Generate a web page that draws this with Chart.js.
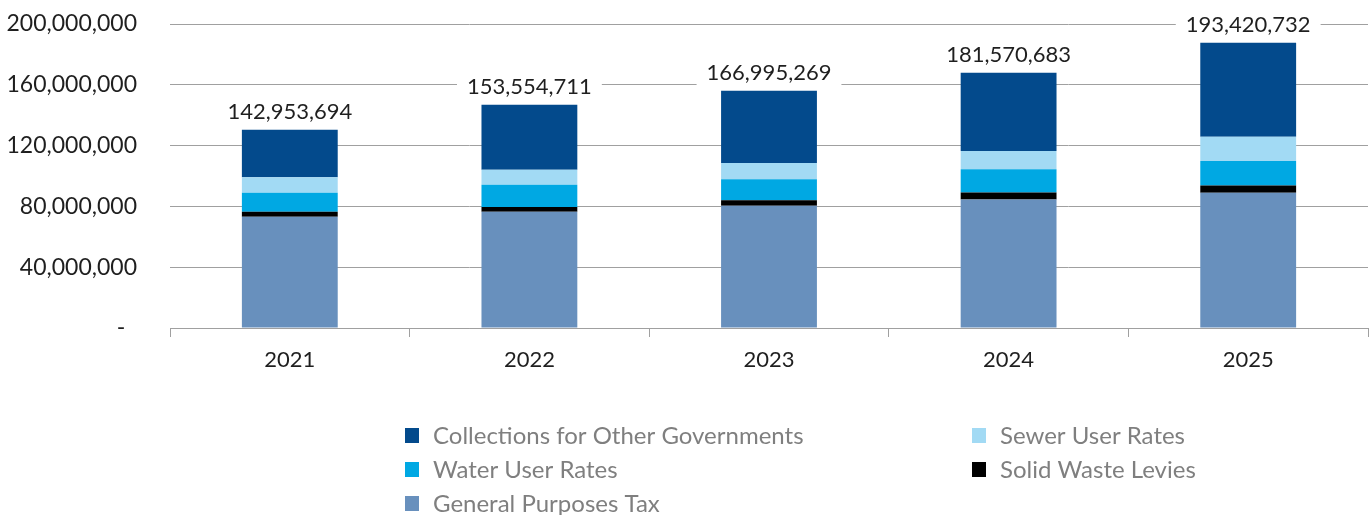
<!DOCTYPE html>
<html>
<head>
<meta charset="utf-8">
<script src="https://cdn.jsdelivr.net/npm/chart.js@4/dist/chart.umd.min.js"></script>
<style>
  html, body { margin: 0; padding: 0; background: #fff; }
  canvas { display: block; }
</style>
</head>
<body>
<canvas id="revenueChart" width="1370" height="515"></canvas>
<script>
const years = ['2021', '2022', '2023', '2024', '2025']

// stacked from the bottom up
const generalPurposes = [73200000, 76500000, 80500000, 84600000, 89000000]
const solidWaste = [3300000, 3100000, 3500000, 4600000, 4800000]
const waterRates = [12500000, 14700000, 13800000, 15200000, 16100000]
const sewerRates = [10100000, 9800000, 10700000, 12000000, 16000000]
const otherGovts = [31400000, 42800000, 47600000, 51600000, 61800000]

// printed totals above each bar
const totals = [142953694, 153554711, 166995269, 181570683, 193420732]

const yTicks = [0, 40000000, 80000000, 120000000, 160000000, 200000000]

const FONT = 'Lato'
const gridGrey = '#a0a0a0'

const fmt = v => v.toLocaleString('en-US')

const totalsPlugin = {
  id: 'totals',
  afterDatasetsDraw(chart) {
    const ctx = chart.ctx
    const last = chart.getDatasetMeta(chart.data.datasets.length - 1)
    ctx.save()
    ctx.font = '22px ' + FONT
    ctx.textAlign = 'center'
    ctx.textBaseline = 'alphabetic'
    last.data.forEach((bar, i) => {
      const txt = fmt(totals[i])
      const w = ctx.measureText(txt).width
      const base = bar.y - 11
      ctx.fillStyle = '#ffffff'
      ctx.fillRect(bar.x - w / 2 - 10, base - 22, w + 20, 28)
      ctx.fillStyle = '#1f1f1f'
      ctx.fillText(txt, bar.x, base)
    })
    ctx.restore()
  }
}

const legendPlugin = {
  id: 'gridLegend',
  afterDraw(chart) {
    const ctx = chart.ctx
    const sets = chart.data.datasets.slice().reverse()
    const cols = [405, 972]
    const rows = [435, 469, 503]
    ctx.save()
    ctx.font = '24px ' + FONT
    ctx.textBaseline = 'middle'
    ctx.textAlign = 'left'
    sets.forEach((ds, i) => {
      const x = cols[i % 2]
      const y = rows[Math.floor(i / 2)]
      ctx.fillStyle = ds.backgroundColor
      ctx.fillRect(x, y - 7, 14, 15)
      ctx.fillStyle = '#7f7f7f'
      ctx.fillText(ds.label, x + 28, y + 1)
    })
    ctx.restore()
  }
}

function loadPage() {
  const ctx = document.getElementById('revenueChart').getContext('2d')
  new Chart(ctx, {
    type: 'bar',
    data: {
      labels: years,
      datasets: [
        { label: 'General Purposes Tax', data: generalPurposes, backgroundColor: '#6890bd' },
        { label: 'Solid Waste Levies', data: solidWaste, backgroundColor: '#000000' },
        { label: 'Water User Rates', data: waterRates, backgroundColor: '#00a8e3' },
        { label: 'Sewer User Rates', data: sewerRates, backgroundColor: '#a2daf4' },
        { label: 'Collections for Other Governments', data: otherGovts, backgroundColor: '#034a8c' }
      ]
    },
    options: {
      responsive: false,
      animation: false,
      devicePixelRatio: 1,
      layout: { padding: { top: 24, right: 2, left: 0, bottom: 0 } },
      datasets: {
        bar: { categoryPercentage: 1, barPercentage: 0.4, borderWidth: 0 }
      },
      plugins: {
        legend: { display: false },
        tooltip: { enabled: false }
      },
      scales: {
        x: {
          stacked: true,
          afterFit: s => { s.height = 187 },
          grid: { offset: true, drawOnChartArea: false, tickLength: 9, color: gridGrey },
          border: { display: true, color: gridGrey },
          ticks: { color: '#1f1f1f', font: { family: FONT, size: 22 }, padding: 10 }
        },
        y: {
          stacked: true,
          min: 0,
          max: 200000000,
          afterFit: s => { s.width = 170; s.paddingTop = 0; s.paddingBottom = 0 },
          afterBuildTicks: s => { s.ticks = yTicks.map(v => ({ value: v })) },
          grid: { color: gridGrey, drawTicks: false },
          border: { display: false },
          ticks: {
            color: '#1f1f1f',
            font: { family: FONT, size: 23 },
            padding: 33,
            callback: v => v === 0 ? '-  ' : fmt(v)
          }
        }
      }
    },
    plugins: [totalsPlugin, legendPlugin]
  })
}

window.addEventListener('load', loadPage)
</script>
</body>
</html>
